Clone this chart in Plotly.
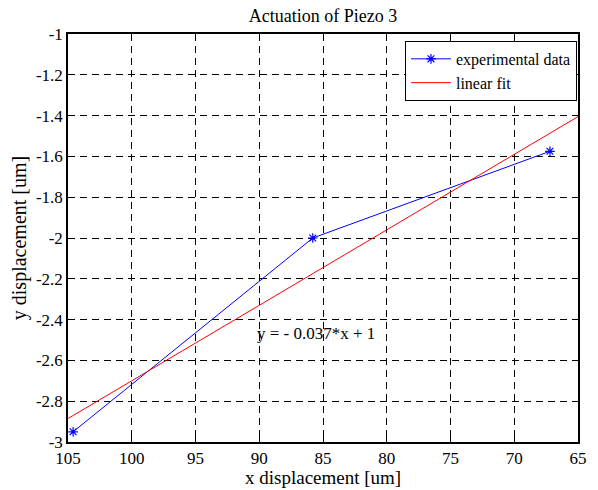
import plotly.graph_objects as go

# Measured piezo actuation (x and y displacement, um)
x_data = [104.6, 85.8, 67.2]
y_data = [-2.95, -2.0, -1.575]

# Linear fit y = slope * x + intercept
fit_slope = -0.037
fit_intercept = 1.0
fit_x = [105, 65]
fit_y = [fit_slope * x + fit_intercept for x in fit_x]

x_ticks = [105, 100, 95, 90, 85, 80, 75, 70, 65]
y_ticks = [-3, -2.8, -2.6, -2.4, -2.2, -2, -1.8, -1.6, -1.4, -1.2, -1]
y_tick_text = ["-3", "-2.8", "-2.6", "-2.4", "-2.2", "-2", "-1.8", "-1.6", "-1.4", "-1.2", "-1"]

font_family = "Liberation Serif"

fig = go.Figure()
fig.add_trace(go.Scatter(
    x=x_data, y=y_data, mode="lines+markers", name="experimental data",
    line=dict(color="#0000ff", width=1),
    marker=dict(symbol="asterisk-open", size=8, color="#0000ff",
                line=dict(color="#0000ff", width=1.2)),
))
fig.add_trace(go.Scatter(
    x=fit_x, y=fit_y, mode="lines", name="linear fit",
    line=dict(color="#ff0000", width=1),
))

fig.add_annotation(
    x=90.3, y=-2.47, xref="x", yref="y", xanchor="left", yanchor="middle",
    text="y = - 0.037*x + 1", showarrow=False,
    font=dict(family=font_family, size=17, color="black"),
)

# x-axis title placed just under the tick labels
fig.add_annotation(
    x=0.5, y=0, xref="paper", yref="paper", xanchor="center", yanchor="top",
    yshift=-23, text="x displacement [um]", showarrow=False,
    font=dict(family=font_family, size=19, color="black"),
)

axis_common = dict(
    showline=True, linecolor="black", linewidth=1.5, mirror="ticks",
    ticks="inside", ticklen=5, tickcolor="black",
    showgrid=True, gridcolor="black", gridwidth=1, griddash="7px,5px",
    zeroline=False, automargin=False,
    tickfont=dict(family=font_family, size=17, color="black"),
)

fig.update_layout(
    width=598, height=490,
    margin=dict(l=68, r=20, t=34, b=48),
    paper_bgcolor="white", plot_bgcolor="white",
    title=dict(text="Actuation of Piezo 3", x=0.5 + (68 - 20) / 2 / 598, xanchor="center",
               y=1 - 16 / 490, yanchor="middle",
               font=dict(family=font_family, size=18, color="black")),
    xaxis=dict(axis_common, range=[105, 65], tickvals=x_ticks),
    yaxis=dict(axis_common, range=[-3, -1], tickvals=y_ticks, ticktext=y_tick_text,
               title=dict(text="y displacement [um]", standoff=4,
                          font=dict(family=font_family, size=20, color="black"))),
    legend=dict(x=0.998, xanchor="right", y=0.983, yanchor="top",
                bgcolor="white", bordercolor="black", borderwidth=1,
                font=dict(family=font_family, size=16, color="black"),
                itemwidth=40, tracegroupgap=0),
    showlegend=True,
)

fig.write_html("out.html")
